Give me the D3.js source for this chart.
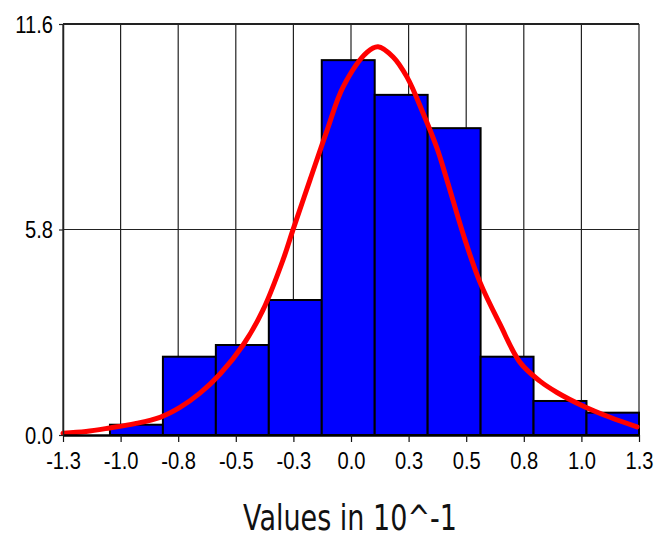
<!DOCTYPE html>
<html>
<head>
<meta charset="utf-8">
<script src="https://cdn.jsdelivr.net/npm/d3@7/dist/d3.min.js"></script>
<style>
  html, body { margin: 0; padding: 0; background: #fff; }
  svg { display: block; }
</style>
</head>
<body>
<svg id="chart" width="660" height="540"></svg>
<script>
// ---- data ----
const binEdges = [-1.088, -0.849, -0.610, -0.371, -0.132, 0.107, 0.346, 0.585, 0.824, 1.063, 1.300];
const binCounts = [0.29, 2.21, 2.54, 3.81, 10.58, 9.60, 8.66, 2.21, 0.96, 0.63];
const curveX = [-1.30, -1.196, -1.088, -0.975, -0.862, -0.772, -0.682, -0.591, -0.487, -0.397, -0.307, -0.262, -0.185, -0.108, -0.036, 0.072, 0.122, 0.190, 0.253, 0.325, 0.388, 0.433, 0.515, 0.583, 0.673, 0.763, 0.853, 0.930, 1.047, 1.169, 1.291];
const curveY = [0.05, 0.10, 0.20, 0.32, 0.50, 0.78, 1.18, 1.72, 2.54, 3.53, 4.94, 5.79, 7.20, 8.60, 9.82, 10.80, 10.96, 10.67, 10.10, 9.09, 8.10, 7.20, 5.50, 4.30, 3.12, 2.05, 1.52, 1.20, 0.82, 0.50, 0.23];
const xTickValues = [-1.3, -1.04, -0.78, -0.52, -0.26, 0, 0.26, 0.52, 0.78, 1.04, 1.3];
const xTickLabels = ["-1.3", "-1.0", "-0.8", "-0.5", "-0.3", "0.0", "0.3", "0.5", "0.8", "1.0", "1.3"];
const yTickValues = [0, 5.8, 11.6];
const yTickLabels = ["0.0", "5.8", "11.6"];
const xTitle = "Values in 10^-1";

// ---- layout ----
const svg = d3.select("#chart");
const L = 63, R = 639, T = 24, B = 435;
const x = d3.scaleLinear().domain([-1.3, 1.3]).range([L, R]);
const y = d3.scaleLinear().domain([0, 11.6]).range([B, T]);

// grid
const grid = svg.append("g");
grid.selectAll("line.v").data(xTickValues).join("line")
  .attr("x1", d => x(d)).attr("x2", d => x(d))
  .attr("y1", T).attr("y2", B)
  .attr("stroke", "#222").attr("stroke-width", 1.2);
grid.selectAll("line.h").data(yTickValues.filter(v => v > 0)).join("line")
  .attr("x1", L).attr("x2", R)
  .attr("y1", d => y(d)).attr("y2", d => y(d))
  .attr("stroke", "#222").attr("stroke-width", d => d === 11.6 ? 2 : 1.2);

// bars
svg.append("g").selectAll("rect").data(binCounts).join("rect")
  .attr("x", (d, i) => x(binEdges[i]))
  .attr("width", (d, i) => x(binEdges[i + 1]) - x(binEdges[i]))
  .attr("y", d => y(d))
  .attr("height", d => y(0) - y(d))
  .attr("fill", "#0000ff")
  .attr("stroke", "#000").attr("stroke-width", 2);

// curve
const pts = curveX.map((v, i) => [v, curveY[i]]);
svg.append("path").datum(pts)
  .attr("d", d3.line().x(d => x(d[0])).y(d => y(d[1])).curve(d3.curveCatmullRom))
  .attr("fill", "none").attr("stroke", "#ff0000")
  .attr("stroke-width", 5).attr("stroke-linejoin", "round").attr("stroke-linecap", "round");

// x axis
const xAxis = d3.axisBottom(x).tickValues(xTickValues)
  .tickFormat((d, i) => xTickLabels[i]).tickSize(7).tickSizeOuter(0).tickPadding(4);
const gx = svg.append("g").attr("transform", `translate(0,${B})`).call(xAxis);
gx.select(".domain").attr("stroke", "#000").attr("stroke-width", 2.5);
gx.selectAll(".tick line").attr("stroke", "#111").attr("stroke-width", 1.2);
gx.selectAll(".tick text")
  .attr("font-family", "Liberation Sans, Arial, sans-serif")
  .attr("font-size", 24).attr("fill", "#000")
  .attr("dy", null).attr("y", null)
  .attr("transform", "translate(0,34) scale(0.84,1)");

// y axis
const yAxis = d3.axisLeft(y).tickValues(yTickValues)
  .tickFormat((d, i) => yTickLabels[i]).tickSize(4).tickSizeOuter(0).tickPadding(6);
const gy = svg.append("g").attr("transform", `translate(${L},0)`).call(yAxis);
gy.select(".domain").attr("stroke", "#222").attr("stroke-width", 1.5);
gy.selectAll(".tick line").attr("stroke", "#222").attr("stroke-width", 1.2);
gy.selectAll(".tick text")
  .attr("font-family", "Liberation Sans, Arial, sans-serif")
  .attr("font-size", 24).attr("fill", "#000")
  .attr("x", null).attr("dy", "0.35em")
  .attr("transform", "translate(-10,0) scale(0.84,1)");

// x title
svg.append("text")
  .attr("x", 350).attr("y", 530)
  .attr("text-anchor", "middle")
  .attr("font-family", "DejaVu Sans, Verdana, sans-serif")
  .attr("font-size", 36).attr("fill", "#111")
  .attr("textLength", 214).attr("lengthAdjust", "spacingAndGlyphs")
  .text(xTitle);
</script>
</body>
</html>
